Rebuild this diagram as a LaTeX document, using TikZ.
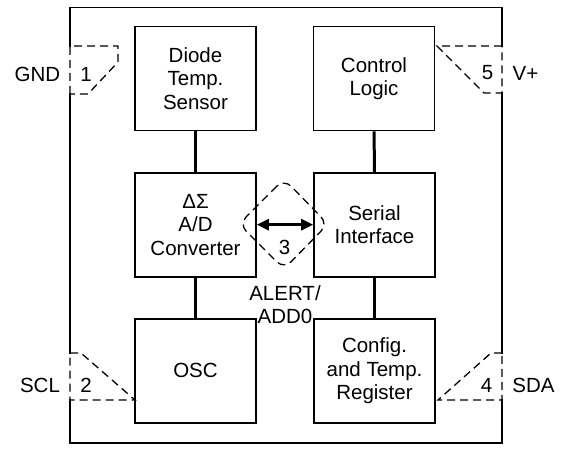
\documentclass[tikz,border=0pt]{standalone}
\usepackage{fontspec}
\setmainfont{Liberation Sans}
\usetikzlibrary{arrows.meta}
\begin{document}
\begin{tikzpicture}[x=1pt,y=-1pt,
  txt/.style={font=\fontsize{20.5}{23.5}\selectfont, inner sep=0pt, align=center},
  blk/.style={txt, draw, line width=1.6pt, minimum width=121pt, minimum height=104pt},
  conn/.style={line width=3pt},
  border/.style={line width=1.6pt, line cap=rect},
  pindash/.style={line width=1.3pt, dash pattern=on 8pt off 5pt},
  dbl/.style={line width=2.6pt, {Triangle[length=12pt,width=11pt]}-{Triangle[length=12pt,width=11pt]}}
]
\useasboundingbox (0,0) rectangle (561,449);

% outer border (solid parts)
\draw[border] (70,46) -- (70,7.5) -- (502,7.5) -- (502,46);
\draw[border] (502,93) -- (502,353);
\draw[border] (502,400) -- (502,443) -- (70,443) -- (70,400);
\draw[border] (70,353) -- (70,94);

% blocks
\node[blk] (diode)  at (195.5,78.5)  {Diode\\Temp.\\Sensor};
\node[blk] (ctrl)   at (374,78.5)    {Control\\Logic};
\node[blk] (adc)    at (195.5,224.7) {ΔΣ\\A/D\\Converter};
\node[blk] (serial) at (374.5,224.7) {Serial\\Interface};
\node[blk] (osc)    at (195.5,370.7) {OSC};
\node[blk] (config) at (374.5,370.7) {Config.\\and Temp.\\Register};

% connectors
\draw[conn] (diode) -- (adc);
\draw[conn] (adc) -- (osc);
\draw[conn] (ctrl) -- (serial);
\draw[conn] (serial) -- (config);
\draw[dbl] (adc.east) -- (serial.west);

% pin 3 outline
\draw[pindash, rounded corners=10pt] (284,179) -- (239,224) -- (284,269) -- (328,224) -- cycle;
\node[txt] (n3) at (284.5,247) {3};
\node[txt] (alert) at (285,304.5) {ALERT/\\ADD0};

% pin 1 GND
\draw[pindash] (70,94) -- (70,46) -- (118,46) -- (118,62) -- (88,94) -- cycle;
\node[txt] (n1) at (86,74) {1};
\node[txt] (gnd) at (37.5,74) {GND};

% pin 5 V+
\draw[pindash] (502,46) -- (437,46) -- (484,93) -- (502,93) -- cycle;
\node[txt] (n5) at (487.5,73) {5};
\node[txt] (vp) at (525.5,73) {V+};

% pin 2 SCL
\draw[pindash] (70,353) -- (81,353) -- (135,400) -- (70,400) -- cycle;
\node[txt] (n2) at (86,385) {2};
\node[txt] (scl) at (40,385) {SCL};

% pin 4 SDA
\draw[pindash] (502,353) -- (491,353) -- (438,400) -- (502,400) -- cycle;
\node[txt] (n4) at (486.5,385) {4};
\node[txt] (sda) at (533.5,385) {SDA};
\end{tikzpicture}
\end{document}
